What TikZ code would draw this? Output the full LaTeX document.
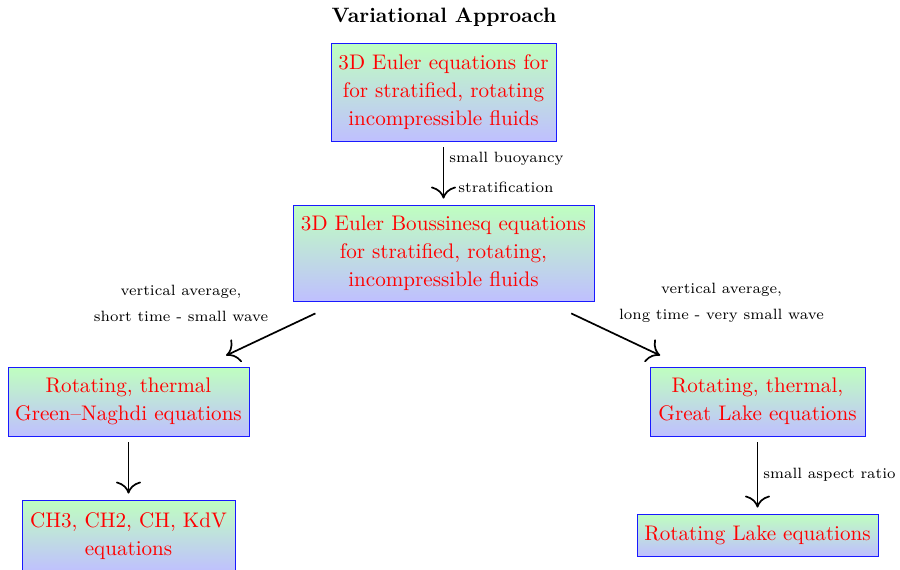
\documentclass[tikz,border=0pt]{standalone}
\usetikzlibrary{arrows.meta,shadings}
\tikzset{
  eqbox/.style={draw=blue!90, line width=0.45pt, top color=green!25, bottom color=blue!25,
    text=red, align=center, font=\fontsize{10.55}{14}\selectfont, inner sep=0pt},
  lbl/.style={font=\fontsize{7.45}{13}\selectfont, align=center, inner sep=0pt},
  conn/.style={line width=0.85pt, -{Computer Modern Rightarrow[length=6pt,width=12.5pt]}},
  vconn/.style={conn, shorten <=3pt, shorten >=3pt},
  dconn/.style={conn, shorten <=14pt, shorten >=13pt}
}
\begin{document}
\begin{tikzpicture}[x=0.5pt,y=-0.5pt]
\useasboundingbox (0,0) rectangle (900,569);
\node[font=\fontsize{10.4}{12}\selectfont\bfseries] (title) at (444,17) {Variational Approach};
\node[eqbox, minimum width=112.5pt, minimum height=49pt] (A) at (443.5,92)
  {3D Euler equations for\\for stratified, rotating\\incompressible fluids};
\node[eqbox, minimum width=150.5pt, minimum height=48pt] (B) at (443.5,253)
  {3D Euler Boussinesq equations\\for stratified, rotating,\\incompressible fluids};
\node[eqbox, minimum width=120.5pt, minimum height=34.5pt] (C) at (128.5,401.5)
  {Rotating, thermal\\Green--Naghdi equations};
\node[eqbox, minimum width=107.5pt, minimum height=34.5pt] (D) at (757.5,401.5)
  {Rotating, thermal,\\Great Lake equations};
\node[eqbox, minimum width=106.5pt, minimum height=36pt] (E) at (128.5,536)
  {CH3, CH2, CH, KdV\\equations};
\node[eqbox, minimum width=120.5pt, minimum height=21pt] (F) at (757.5,535)
  {Rotating Lake equations};

\draw[vconn] (A) -- (B);
\draw[dconn] (B) -- (C);
\draw[dconn] (B) -- (D);
\draw[vconn] (C) -- (E);
\draw[vconn] (D) -- (F);

\node[lbl, anchor=west] (l1a) at (449,159) {small buoyancy};
\node[lbl, anchor=west] (l1b) at (458,187) {stratification};
\node[lbl] (l2) at (181,303) {vertical average,\\short time - small wave};
\node[lbl] (l3) at (721.5,303) {vertical average,\\long time - very small wave};
\node[lbl, anchor=west] (l4) at (763,475) {small aspect ratio};
\end{tikzpicture}
\end{document}
